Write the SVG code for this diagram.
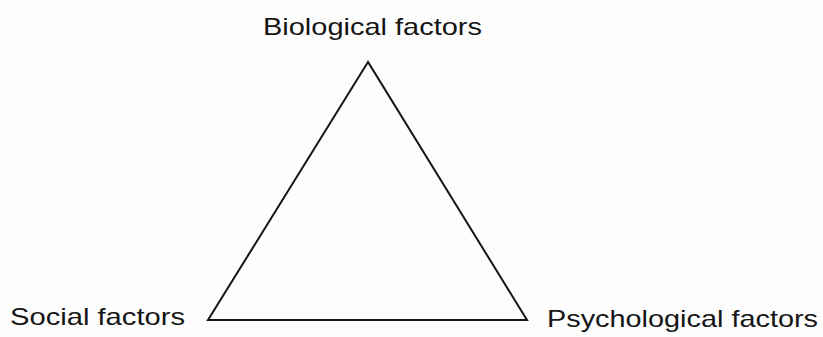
<svg xmlns="http://www.w3.org/2000/svg" width="823" height="337" viewBox="0 0 823 337">
<style>
.lbl{font-family:"Liberation Sans","DejaVu Sans",sans-serif;font-size:24px;fill:#151515}
.edge{fill:none;stroke:#151515;stroke-width:2;stroke-linejoin:miter}
</style>
<rect width="823" height="337" fill="#fdfdfd"/>
<g id="connectors">
<polygon class="edge" points="368,62 208,320 527,320"/>
</g>
<g id="biological">
<text class="lbl" x="263" y="35" textLength="219" lengthAdjust="spacingAndGlyphs">Biological factors</text>
</g>
<g id="social">
<text class="lbl" x="10" y="325" textLength="175" lengthAdjust="spacingAndGlyphs">Social factors</text>
</g>
<g id="psychological">
<text class="lbl" x="547" y="327" textLength="271" lengthAdjust="spacingAndGlyphs">Psychological factors</text>
</g>
</svg>
